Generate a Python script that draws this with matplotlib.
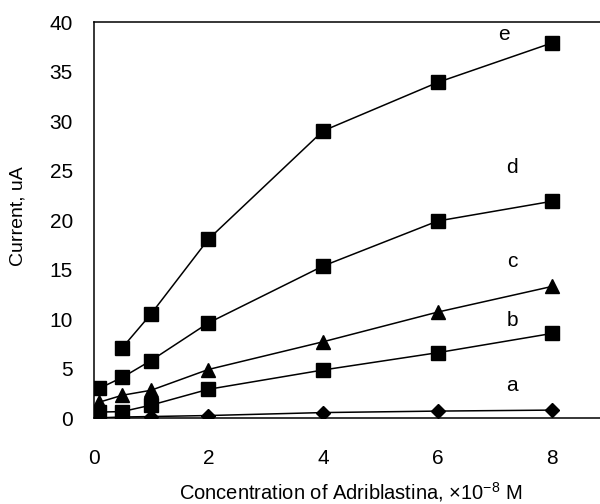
import numpy as np
import matplotlib.pyplot as plt

plt.rcParams['font.family'] = ['Liberation Sans', 'DejaVu Sans']

# data
x_a = [0, 0.5, 1, 2, 4, 6, 8]
y_a = [0, 0.1, 0.15, 0.25, 0.55, 0.7, 0.8]

x_b = [0, 0.1, 0.5, 1, 2, 4, 6, 8]
y_b = [0.3, 0.6, 0.65, 1.3, 2.9, 4.85, 6.6, 8.55]

x_c = [0.1, 0.5, 1, 2, 4, 6, 8]
y_c = [1.6, 2.3, 2.8, 4.9, 7.7, 10.7, 13.3]

x_d = [0.1, 0.5, 1, 2, 4, 6, 8]
y_d = [3.0, 4.1, 5.8, 9.6, 15.35, 19.9, 21.9]

x_e = [0.5, 1, 2, 4, 6, 8]
y_e = [7.1, 10.5, 18.05, 29.0, 33.9, 37.9]

curve_labels = ['a', 'b', 'c', 'd', 'e']
label_x = [7.3, 7.3, 7.3, 7.3, 7.15]
label_y = [3.3, 9.9, 15.8, 25.3, 38.7]

fig = plt.figure(figsize=(6, 5.04), dpi=100)
ax = fig.add_axes([0.156, 0.1706, 0.844, 0.7857])

ax.plot(x_a, y_a, 'k-', marker='D', ms=7, lw=1.1)
ax.plot(x_b, y_b, 'k-', marker='s', ms=9.5, lw=1.1)
ax.plot(x_c, y_c, 'k-', marker='^', ms=10, lw=1.1)
ax.plot(x_d, y_d, 'k-', marker='s', ms=9.5, lw=1.1)
ax.plot(x_e, y_e, 'k-', marker='s', ms=9.5, lw=1.1)

for lab, lx, ly in zip(curve_labels, label_x, label_y):
    ax.text(lx, ly, lab, fontsize=15, ha='center', va='center')

ax.set_xlim(0, 8.83)
ax.set_ylim(0, 40)
ax.set_xticks([0, 2, 4, 6, 8])
ax.set_yticks(np.arange(0, 41, 5))
ax.spines['right'].set_visible(False)
for s in ['left', 'top', 'bottom']:
    ax.spines[s].set_linewidth(1.1)
ax.tick_params(axis='both', length=0, labelsize=15)
ax.tick_params(axis='y', pad=15)
ax.tick_params(axis='x', pad=22)

fig.text(0.585, 0.01, 'Concentration of Adriblastina, \u00d710$^{\\mathregular{-8}}$ M',
         fontsize=14.5, ha='center', va='baseline')
fig.text(0.03, 0.571, 'Current, uA', fontsize=14, rotation=90,
         ha='center', va='center')

fig.savefig('out.png', dpi=100)
